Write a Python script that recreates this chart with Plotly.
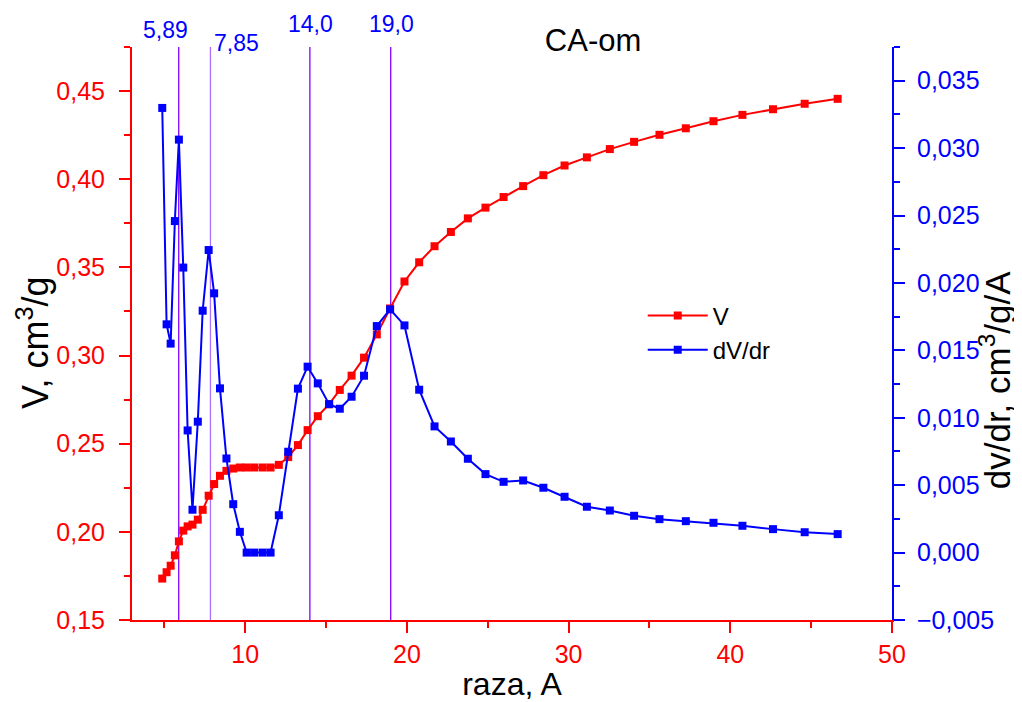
import plotly.graph_objects as go

raza = [4.87, 5.14, 5.39, 5.65, 5.90, 6.17, 6.44, 6.74, 7.07, 7.37,
        7.74, 8.08, 8.44, 8.84, 9.26, 9.67, 10.09, 10.56, 11.08, 11.57,
        12.08, 12.66, 13.26, 13.86, 14.49, 15.19, 15.85, 16.58, 17.35, 18.14,
        18.96, 19.85, 20.76, 21.71, 22.72, 23.77, 24.86, 25.98, 27.19, 28.44,
        29.75, 31.13, 32.55, 34.05, 35.62, 37.25, 38.96, 40.75, 42.64, 44.60,
        46.64]

V = [0.1735, 0.1771, 0.1808, 0.1867, 0.1946, 0.2007, 0.2031, 0.2041, 0.2069, 0.2125,
     0.2205, 0.2271, 0.2318, 0.2346, 0.2359, 0.2365, 0.2365, 0.2365, 0.2365, 0.2365,
     0.2380, 0.2424, 0.2492, 0.2577, 0.2656, 0.2724, 0.2805, 0.2886, 0.2988, 0.3120,
     0.3267, 0.3420, 0.3529, 0.3620, 0.3701, 0.3778, 0.3839, 0.3899, 0.3961, 0.4023,
     0.4078, 0.4124, 0.4171, 0.4212, 0.4252, 0.4289, 0.4329, 0.4365, 0.4397, 0.4428,
     0.4456]

dVdr = [0.03298, 0.01693, 0.01550, 0.02459, 0.03063, 0.02114, 0.00906, 0.00318, 0.00971, 0.01794,
        0.02244, 0.01923, 0.01218, 0.00698, 0.00359, 0.00154, 0.0, 0.0, 0.0, 0.0,
        0.00277, 0.00748, 0.01216, 0.01379, 0.01255, 0.01101, 0.01067, 0.01156, 0.01312, 0.01680,
        0.01804, 0.01685, 0.01208, 0.00936, 0.00824, 0.00696, 0.00582, 0.00525, 0.00535, 0.00481,
        0.00414, 0.00340, 0.00312, 0.00273, 0.00248, 0.00233, 0.00221, 0.00199, 0.00174, 0.00151,
        0.00137]

peak_x = [5.89, 7.85, 14.0, 19.0]
peak_labels = ["5,89", "7,85", "14,0", "19,0"]
peak_colors = ["#8000FF", "#B070FF", "#8000FF", "#8000FF"]
peak_label_y = [1.004, 0.980, 1.014, 1.014]
peak_label_shift = [-13, 26, 1, 1]

FONT = "Liberation Sans, Arial, sans-serif"
RED = "#FF0000"
BLUE = "#0000FF"

fig = go.Figure()
fig.add_trace(go.Scatter(x=raza, y=V, name="V", mode="lines+markers",
                         line=dict(color=RED, width=2),
                         marker=dict(symbol="square", size=8, color=RED),
                         yaxis="y"))
fig.add_trace(go.Scatter(x=raza, y=dVdr, name="dV/dr", mode="lines+markers",
                         line=dict(color=BLUE, width=2),
                         marker=dict(symbol="square", size=8, color=BLUE),
                         yaxis="y2"))

for xv, col in zip(peak_x, peak_colors):
    fig.add_shape(type="line", xref="x", yref="paper", x0=xv, x1=xv, y0=0, y1=1,
                  line=dict(color=col, width=1.3), layer="below")

for xv, lab, yv, sh in zip(peak_x, peak_labels, peak_label_y, peak_label_shift):
    fig.add_annotation(x=xv, y=yv, xref="x", yref="paper", text=lab, showarrow=False,
                       xshift=sh, yanchor="bottom",
                       font=dict(family=FONT, size=23, color=BLUE))

# axis titles (placed as rotated annotations to match the reference position)
fig.add_annotation(x=-0.131, y=0.484, xref="paper", yref="paper", text="V, cm<sup>3</sup>/g",
                   textangle=-90, showarrow=False, xanchor="center", yanchor="middle",
                   font=dict(family=FONT, size=36, color="black"))
fig.add_annotation(x=1.136, y=0.419, xref="paper", yref="paper", text="dv/dr, cm<sup>3</sup>/g/A",
                   textangle=-90, showarrow=False, xanchor="center", yanchor="middle",
                   font=dict(family=FONT, size=35, color="black"))

fig.update_layout(
    width=1014, height=694,
    paper_bgcolor="white", plot_bgcolor="white",
    margin=dict(l=124, r=130, t=39, b=82, autoexpand=False),
    separators=", ",
    font=dict(family=FONT),
    title=dict(text="CA-om", x=0.577, xanchor="center", y=0.954, yanchor="middle",
               font=dict(family=FONT, size=31, color="black"), automargin=False),
    showlegend=True,
    legend=dict(x=0.672, y=0.570, xanchor="left", yanchor="top", itemwidth=60,
                bgcolor="rgba(0,0,0,0)", font=dict(family=FONT, size=24, color="black"),
                tracegroupgap=0),
    xaxis=dict(range=[3, 50], dtick=10, tick0=0, showgrid=False, zeroline=False,
               automargin=False,
               showline=True, linecolor=RED, linewidth=2,
               ticks="outside", ticklen=11, tickwidth=2, tickcolor=RED,
               minor=dict(dtick=5, tick0=0, ticks="outside", ticklen=6, tickwidth=2, tickcolor=RED),
               tickfont=dict(family=FONT, size=25, color=RED),
               title=dict(text="raza, A", font=dict(family=FONT, size=32, color="black"), standoff=4)),
    yaxis=dict(range=[0.15, 0.475], dtick=0.05, tick0=0.15, tickformat=".2f",
               showgrid=False, zeroline=False, automargin=False,
               showline=True, linecolor=RED, linewidth=2,
               ticks="outside", ticklen=11, tickwidth=2, tickcolor=RED,
               ticklabelstandoff=9,
               minor=dict(dtick=0.025, tick0=0.15, ticks="outside", ticklen=6, tickwidth=2, tickcolor=RED),
               tickfont=dict(family=FONT, size=25, color=RED)),
    yaxis2=dict(range=[-0.005, 0.0375], dtick=0.005, tick0=-0.005, tickformat=".3f",
                overlaying="y", side="right", showgrid=False, zeroline=False, automargin=False,
                showline=True, linecolor=BLUE, linewidth=2,
                ticks="outside", ticklen=11, tickwidth=2, tickcolor=BLUE,
                ticklabelstandoff=7,
                minor=dict(dtick=0.0025, tick0=-0.005, ticks="outside", ticklen=6, tickwidth=2, tickcolor=BLUE),
                tickfont=dict(family=FONT, size=25, color=BLUE)),
)

fig.write_html("out.html")
